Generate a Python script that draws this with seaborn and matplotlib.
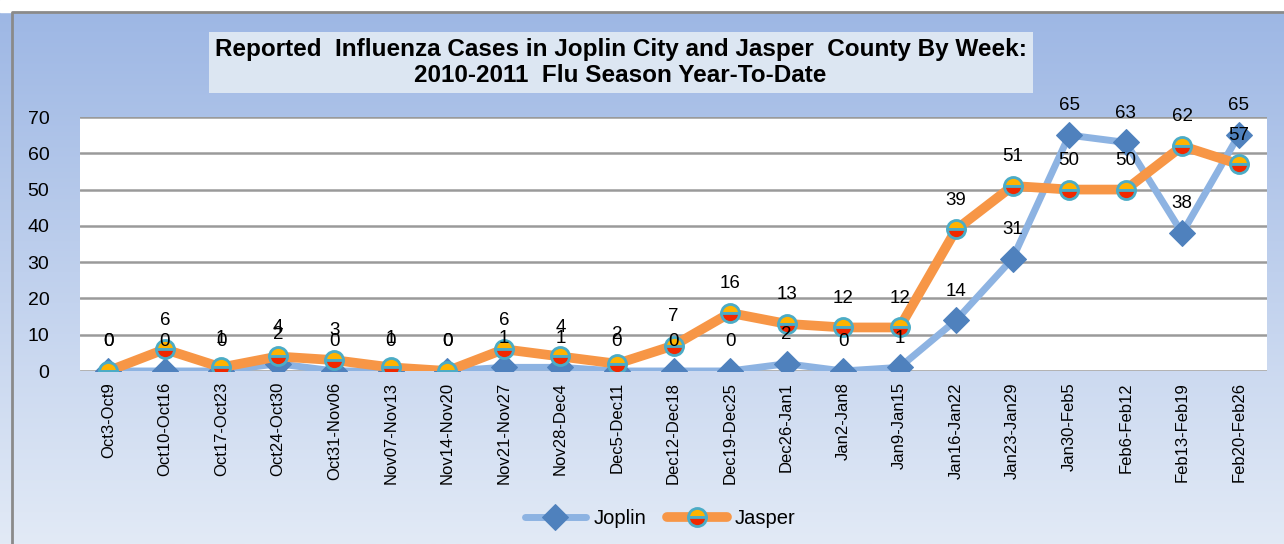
import numpy as np
import pandas as pd
import seaborn as sns
import matplotlib.pyplot as plt
from matplotlib.patches import Rectangle

weeks = ['Oct3-Oct9', 'Oct10-Oct16', 'Oct17-Oct23', 'Oct24-Oct30', 'Oct31-Nov06',
         'Nov07-Nov13', 'Nov14-Nov20', 'Nov21-Nov27', 'Nov28-Dec4', 'Dec5-Dec11',
         'Dec12-Dec18', 'Dec19-Dec25', 'Dec26-Jan1', 'Jan2-Jan8', 'Jan9-Jan15',
         'Jan16-Jan22', 'Jan23-Jan29', 'Jan30-Feb5', 'Feb6-Feb12', 'Feb13-Feb19',
         'Feb20-Feb26']
joplin = [0, 0, 0, 2, 0, 0, 0, 1, 1, 0, 0, 0, 2, 0, 1, 14, 31, 65, 63, 38, 65]
jasper = [0, 6, 1, 4, 3, 1, 0, 6, 4, 2, 7, 16, 13, 12, 12, 39, 51, 50, 50, 62, 57]
y_ticks = [0, 10, 20, 30, 40, 50, 60, 70]

sns.set_style('white')
plt.rcParams['font.family'] = ['Liberation Sans', 'DejaVu Sans']
plt.rcParams['text.color'] = 'black'
plt.rcParams['xtick.color'] = 'black'
plt.rcParams['ytick.color'] = 'black'

fig = plt.figure(figsize=(12.84, 5.44), dpi=100)

# gradient background
bg = fig.add_axes([0, 0, 1, 1], zorder=-10)
grad = np.linspace(0, 1, 256).reshape(-1, 1)
top_c = np.array([0x9c, 0xb6, 0xe4]) / 255
bot_c = np.array([0xe2, 0xea, 0xf6]) / 255
img = top_c + (bot_c - top_c) * grad[..., None]
bg.imshow(img, aspect='auto', extent=[0, 1, 0, 1])
bg.add_patch(Rectangle((0, 1 - 12 / 544), 1, 12 / 544, color='white', zorder=2))
bg.plot([12 / 1284, 12 / 1284, 1], [0, 1 - 12 / 544, 1 - 12 / 544], color='#8a8a8a', lw=2, zorder=3)
bg.set_xlim(0, 1)
bg.set_ylim(0, 1)
bg.axis('off')

ax = fig.add_axes([80 / 1284, 173 / 544, 1187 / 1284, 254 / 544])
ax.set_facecolor('white')

df = pd.DataFrame({'week': weeks, 'Joplin': joplin, 'Jasper': jasper})

sns.lineplot(data=df, x='week', y='Joplin', sort=False, ax=ax, color='#8db3e2', lw=5,
             marker='D', markersize=13, markerfacecolor='#4f81bd', markeredgecolor='#4f81bd',
             label='Joplin', zorder=3)
sns.lineplot(data=df, x='week', y='Jasper', sort=False, ax=ax, color='#f79646', lw=7,
             marker='o', markersize=13, fillstyle='top', markerfacecolor='#ffb300',
             markerfacecoloralt='#f02800', markeredgecolor='#4bacc6', markeredgewidth=2,
             label='Jasper', zorder=4)

for i, (a, b) in enumerate(zip(joplin, jasper)):
    ax.annotate(str(a), (i, a), xytext=(0, 21), textcoords='offset points',
                ha='center', va='center', fontsize=13.5, zorder=6)
    ax.annotate(str(b), (i, b), xytext=(0, 21), textcoords='offset points',
                ha='center', va='center', fontsize=13.5, zorder=6)

ax.set_xlim(-0.5, len(weeks) - 0.5)
ax.set_ylim(0, 70)
ax.set_yticks(y_ticks)
ax.set_yticklabels([str(t) for t in y_ticks], fontsize=14)
ax.tick_params(axis='y', pad=22, length=0)
ax.tick_params(axis='x', labelrotation=90, labelsize=12, length=0, pad=8)
ax.yaxis.grid(True, color='#9a9a9a', lw=1.8)
ax.set_axisbelow(True)
for s in ax.spines.values():
    s.set_visible(False)
ax.set_xlabel('')
ax.set_ylabel('')

ax.legend(loc='lower center', bbox_to_anchor=(0.489, -0.69), ncol=2, frameon=False,
          handlelength=3.0, fontsize=14.5, columnspacing=1.0, handletextpad=0.4)

fig.text(0.4834, 0.885,
         'Reported  Influenza Cases in Joplin City and Jasper  County By Week:\n2010-2011  Flu Season Year-To-Date',
         ha='center', va='center', fontsize=17.5, fontweight='bold', linespacing=1.2,
         bbox=dict(boxstyle='square,pad=0.25', facecolor='#dce6f2', edgecolor='none'))

fig.savefig('out.png', dpi=100)
